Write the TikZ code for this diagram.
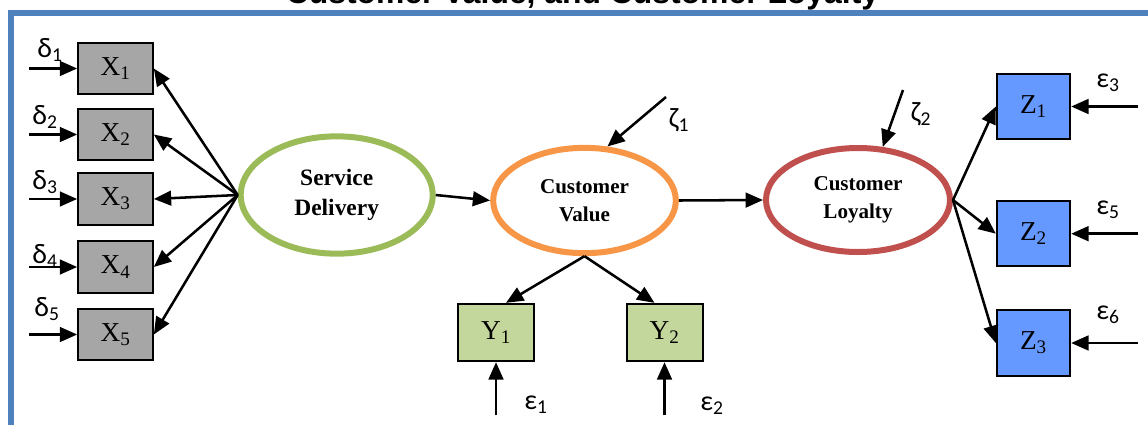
\documentclass[tikz,border=0pt]{standalone}
\usepackage{fontspec}
\setmainfont{Liberation Serif}
\newfontfamily\greekfont{Carlito}
\newfontfamily\headfont{Liberation Sans}
\usepackage{tikz}
\usetikzlibrary{arrows.meta,shapes.geometric}

\definecolor{framecol}{HTML}{4F81BD}
\definecolor{xgray}{HTML}{A6A6A6}
\definecolor{ygreen}{HTML}{C3D69B}
\definecolor{zblue}{HTML}{6699FF}
\definecolor{sdgreen}{HTML}{9BBB59}
\definecolor{cvorange}{HTML}{F79646}
\definecolor{clred}{HTML}{C0504D}

\tikzset{
  obs/.style={draw=black, line width=1.5pt, inner sep=0pt,
    font=\fontsize{20.5}{24}\selectfont},
  xbox/.style={obs, fill=xgray, minimum width=56pt, minimum height=38.5pt},
  ybox/.style={obs, fill=ygreen, minimum width=57pt, minimum height=43pt},
  zbox/.style={obs, fill=zblue, minimum width=55pt, minimum height=49pt},
  latent/.style={ellipse, line width=4.5pt, inner sep=0pt, align=center},
  link/.style={line width=1.9pt, -{Triangle[length=13pt,width=11pt]}},
  err/.style={inner sep=0pt, font=\greekfont\fontsize{21}{24}\selectfont}
}

\begin{document}
\begin{tikzpicture}[x=0.75pt,y=-0.75pt]
\useasboundingbox (0,0) rectangle (1148,425);

% title (cut at the top) and frame
\begin{scope}
\clip (0,0) rectangle (1148,425);
\node[anchor=base, inner sep=0pt, font=\headfont\bfseries\fontsize{23.9}{28}\selectfont]
  (title) at (582.5,3) {Customer Value, and Customer Loyalty};
\end{scope}
\draw[framecol, line width=4.5pt] (10.5,425) -- (10.5,13) -- (1148,13);

% latent variables
\node[latent, draw=sdgreen, minimum width=144pt, minimum height=88pt,
  font=\bfseries\fontsize{17.6}{23}\selectfont] (sd) at (336.7,195) {Service\\Delivery};
\node[latent, draw=cvorange, minimum width=137pt, minimum height=79pt,
  font=\bfseries\fontsize{15.8}{21}\selectfont] (cv) at (584.5,200.5) {Customer\\Value};
\node[latent, draw=clred, minimum width=138pt, minimum height=78pt,
  font=\bfseries\fontsize{15.8}{21}\selectfont] (cl) at (858,200) {Customer\\Loyalty};

% indicators
\node[xbox] (x1) at (115.5,68.5) {X\textsubscript{1}};
\node[xbox] (x2) at (115.5,134.5) {X\textsubscript{2}};
\node[xbox] (x3) at (115.5,199) {X\textsubscript{3}};
\node[xbox] (x4) at (115.5,267) {X\textsubscript{4}};
\node[xbox] (x5) at (115.5,334.5) {X\textsubscript{5}};

\node[ybox] (y1) at (496,332.5) {Y\textsubscript{1}};
\node[ybox] (y2) at (664.5,332.5) {Y\textsubscript{2}};

\node[zbox] (z1) at (1033.5,106.5) {Z\textsubscript{1}};
\node[zbox] (z2) at (1033.5,233.7) {Z\textsubscript{2}};
\node[zbox] (z3) at (1033.5,343) {Z\textsubscript{3}};

% free ends of the error terms
\coordinate (dx1) at (29,68.5);
\coordinate (dx2) at (29,134.5);
\coordinate (dx3) at (29,199);
\coordinate (dx4) at (29,267);
\coordinate (dx5) at (29,334.5);
\coordinate (ey1) at (496,415);
\coordinate (ey2) at (664.5,415);
\coordinate (ez1) at (1138,106.5);
\coordinate (ez2) at (1138,233.7);
\coordinate (ez3) at (1138,343);
\coordinate (zcv) at (666,97);
\coordinate (zcl) at (903,90);

% structural and measurement paths
\draw[link] (sd.west) -- (x1.east);
\draw[link] (sd.west) -- (x2.east);
\draw[link] (sd.west) -- (x3.east);
\draw[link] (sd.west) -- (x4.east);
\draw[link] (sd.west) -- (x5.east);
\draw[link] (sd.east) -- (cv.west);
\draw[link] (cv.east) -- (cl.west);
\draw[link] (cv.south) -- ([xshift=7.5pt]y1.north);
\draw[link] (cv.south) -- ([xshift=-7.5pt]y2.north);
\draw[link] (cl.east) -- (z1.west);
\draw[link] (cl.east) -- (z2.west);
\draw[link] (cl.east) -- (z3.west);

% error terms
\draw[link] (dx1) -- (x1.west);
\draw[link] (dx2) -- (x2.west);
\draw[link] (dx3) -- (x3.west);
\draw[link] (dx4) -- (x4.west);
\draw[link] (dx5) -- (x5.west);
\draw[link] (ey1) -- (y1.south);
\draw[link] (ey2) -- (y2.south);
\draw[link] (ez1) -- (z1.east);
\draw[link] (ez2) -- (z2.east);
\draw[link] (ez3) -- (z3.east);
\draw[link] (zcv) -- (cv.67);
\draw[link] (zcl) -- (cl.65);

\node[err] (d1) at (50,50) {δ\textsubscript{1}};
\node[err] (d2) at (45,117) {δ\textsubscript{2}};
\node[err] (d3) at (45,182) {δ\textsubscript{3}};
\node[err] (d4) at (45,256) {δ\textsubscript{4}};
\node[err] (d5) at (47,309) {δ\textsubscript{5}};
\node[err] (e1) at (536,405) {ε\textsubscript{1}};
\node[err] (e2) at (712,406) {ε\textsubscript{2}};
\node[err] (e3) at (1108,83) {ε\textsubscript{3}};
\node[err] (e5) at (1108,210) {ε\textsubscript{5}};
\node[err] (e6) at (1108,315) {ε\textsubscript{6}};
\node[err] (z1lab) at (679,120) {ζ\textsubscript{1}};
\node[err] (z2lab) at (921,114) {ζ\textsubscript{2}};
\end{tikzpicture}
\end{document}
